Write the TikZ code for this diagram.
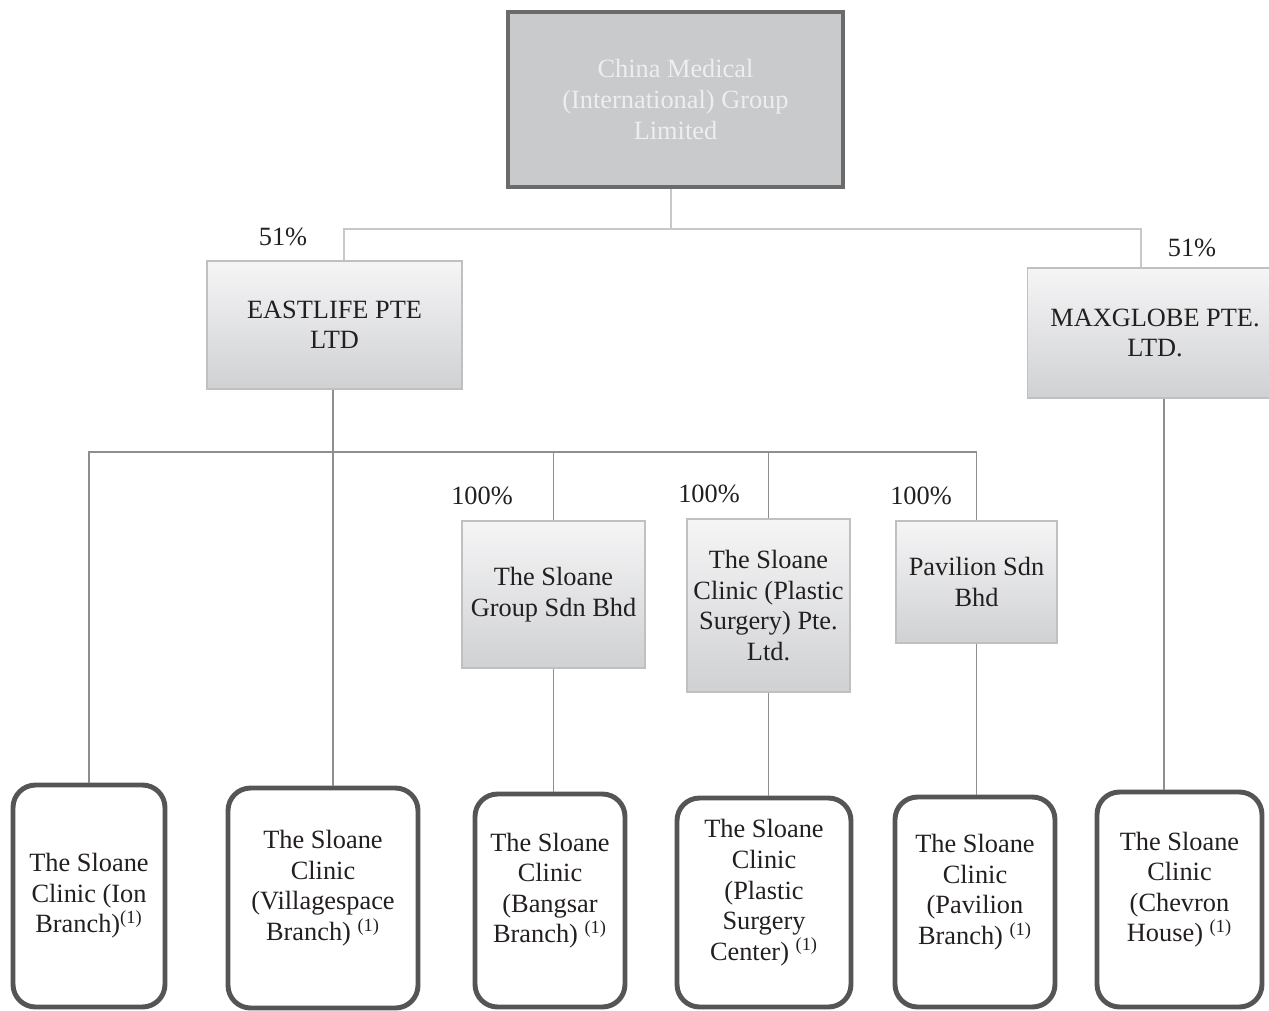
\documentclass[tikz,border=0pt]{standalone}
\usepackage{fontspec}
\setmainfont{Liberation Serif}

\definecolor{ink}{HTML}{231F20}
\definecolor{holdfill}{HTML}{C9CACC}
\definecolor{holdedge}{HTML}{6B6B6B}
\definecolor{holdtext}{HTML}{EEEEEE}
\definecolor{subtop}{HTML}{F5F5F6}
\definecolor{subbot}{HTML}{D0D1D3}
\definecolor{subedge}{HTML}{BFC0C2}
\definecolor{clinicedge}{HTML}{555555}
\definecolor{toplinkgray}{HTML}{C8C8C8}
\definecolor{linkgray}{HTML}{8E8E8E}

\newcommand{\noteone}{\textsuperscript{(1)}}
\newcommand{\liftgap}{\\[-3pt]\mbox{}}

\begin{document}
\begin{tikzpicture}[x=0.02cm,y=-0.02cm,
  font=\fontsize{15}{17.4}\selectfont,
  holding/.style={draw=holdedge,line width=2.3pt,fill=holdfill,text=holdtext,align=center,inner sep=0pt},
  subbox/.style={draw=subedge,line width=1.1pt,top color=subtop,bottom color=subbot,text=ink,align=center,inner sep=0pt},
  clinic/.style={draw=clinicedge,line width=2.8pt,rounded corners=0.45cm,fill=white,text=ink,align=center,inner sep=0pt},
  toplink/.style={draw=toplinkgray,line width=1.1pt},
  link/.style={draw=linkgray,line width=1.1pt},
  pct/.style={text=ink,inner sep=0pt}]
\useasboundingbox (0,0) rectangle (1269,1011);

% holding company
\node[holding,minimum width=6.7cm,minimum height=3.5cm] (cmig) at (675.5,99.5) {China Medical\\(International) Group\\Limited};

% 51% subsidiaries
\node[subbox,minimum width=5.1cm,minimum height=2.56cm] (east) at (334.5,325) {EASTLIFE PTE\\LTD};
\node[subbox,minimum width=5.1cm,minimum height=2.6cm] (maxg) at (1155,333) {MAXGLOBE PTE.\\LTD.};

% 100% subsidiaries
\node[subbox,minimum width=3.66cm,minimum height=2.94cm] (sgrp) at (553.5,594.5) {The Sloane\\Group Sdn Bhd};
\node[subbox,minimum width=3.26cm,minimum height=3.46cm] (ppte) at (768.5,605.5) {The Sloane\\Clinic (Plastic\\Surgery) Pte.\\Ltd.};
\node[subbox,minimum width=3.22cm,minimum height=2.44cm] (pavs) at (976.5,582) {Pavilion Sdn\\Bhd};

% clinics
\node[clinic,minimum width=3.04cm,minimum height=4.44cm] (ion) at (89,896) {The Sloane\\Clinic (Ion\\Branch)\noteone};
\node[clinic,minimum width=3.8cm,minimum height=4.4cm] (vill) at (323,898) {The Sloane\\Clinic\\(Villagespace\\Branch)~\noteone\liftgap};
\node[clinic,minimum width=3.0cm,minimum height=4.26cm] (bang) at (550,900.5) {The Sloane\\Clinic\\(Bangsar\\Branch)~\noteone\liftgap};
\node[clinic,minimum width=3.48cm,minimum height=4.18cm] (pcs) at (764,902.5) {The Sloane\\Clinic\\(Plastic\\Surgery\\Center)~\noteone\liftgap};
\node[clinic,minimum width=3.2cm,minimum height=4.2cm] (pavb) at (975,902) {The Sloane\\Clinic\\(Pavilion\\Branch)~\noteone\liftgap};
\node[clinic,minimum width=3.3cm,minimum height=4.3cm] (chev) at (1179.5,899.5) {The Sloane\\Clinic\\(Chevron\\House)~\noteone\liftgap};

% percentages
\node[pct] (pe) at (283,237) {51\%};
\node[pct] (pm) at (1192,248) {51\%};
\node[pct] (ps) at (482,496) {100\%};
\node[pct] (pp) at (709,494) {100\%};
\node[pct] (pv) at (921,496) {100\%};

% connectors
\coordinate (topbus) at (671,229);
\coordinate (midbus) at (333,452);

\draw[toplink] (cmig.south -| topbus) -- (topbus) -| ([xshift=0.19cm]east.north);
\draw[toplink] (topbus) -| ([xshift=-0.28cm]maxg.north);

\draw[link] (ion.north) |- (midbus) -| (pavs.north);
\draw[link] (east.south -| midbus) -- (vill.north -| midbus);
\draw[link] (sgrp.north |- midbus) -- (sgrp.north);
\draw[link] (ppte.north |- midbus) -- (ppte.north);

\draw[link] (sgrp.south) -- (sgrp.south |- bang.north);
\draw[link] (ppte.south) -- (ppte.south |- pcs.north);
\draw[link] (pavs.south) -- (pavs.south |- pavb.north);
\draw[link] ([xshift=0.18cm]maxg.south) -- ([xshift=0.18cm]maxg.south |- chev.north);

\end{tikzpicture}
\end{document}
